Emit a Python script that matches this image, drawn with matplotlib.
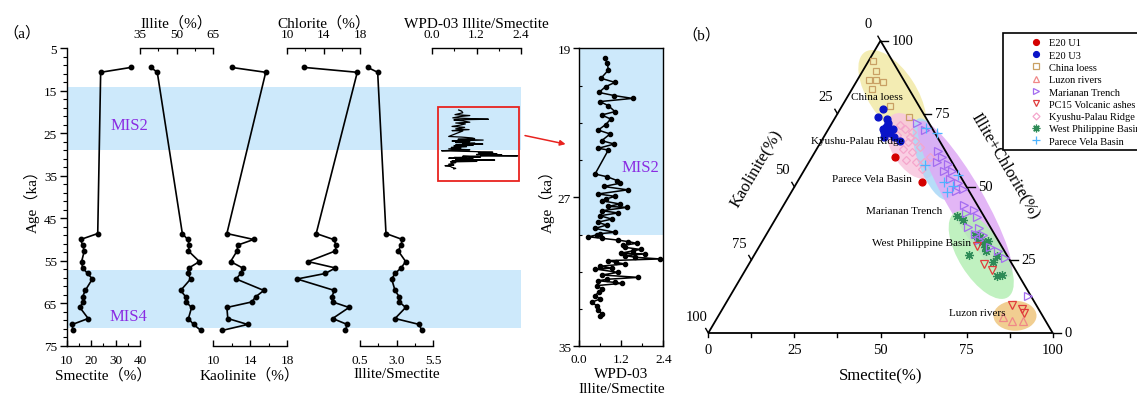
import matplotlib.pyplot as plt
import numpy as np
from matplotlib.lines import Line2D
from matplotlib.patches import Ellipse, Rectangle, FancyArrowPatch, Polygon
from matplotlib.ticker import FixedLocator

plt.rcParams['font.family'] = ['Liberation Serif', 'Noto Sans CJK SC']
plt.rcParams['axes.linewidth'] = 1.0

W, H = 1137, 402

# ---------------- panel (a): clay minerals of core E20 ----------------
age = [9.5, 10.65, 48.6, 50.0, 51.3, 52.7, 55.2, 56.7, 58.0, 59.3,
       62.0, 63.5, 64.7, 66.0, 68.6, 70.0, 71.4]
smectite = [36.3, 23.9, 22.7, 15.7, 16.5, 17.2, 16.1, 16.5, 18.6, 20.5,
            17.6, 16.5, 16.7, 15.4, 18.8, 12.3, 12.5]
illite = [39.5, 42.1, 52.4, 54.6, 55.3, 54.9, 59.4, 55.1, 54.6, 55.8,
          51.7, 53.8, 53.9, 56.2, 54.9, 57.0, 60.0]
kaolinite = [12.0, 15.7, 11.5, 14.4, 12.7, 12.6, 11.9, 13.2, 13.0, 12.5,
             15.5, 14.6, 14.2, 11.5, 11.6, 13.75, 11.0]
chlorite = [11.9, 17.7, 13.2, 15.1, 15.4, 15.3, 12.3, 15.3, 14.2, 11.1,
            15.2, 14.9, 15.0, 16.8, 15.0, 16.6, 16.4]
illite_smectite = [1.03, 1.71, 2.28, 3.40, 3.31, 3.12, 3.63, 3.31, 2.90, 2.67,
                   2.90, 3.19, 3.19, 3.63, 2.90, 4.56, 4.72]

# WPD-03 illite/smectite record
wpd_age = [19.52, 19.79, 20.17, 20.61, 20.83, 21.06, 21.37, 21.54, 21.69, 21.86,
           22.08, 22.40, 22.58, 22.80, 23.10, 23.39, 23.60, 23.96, 24.14, 24.37,
           24.46, 25.75, 25.90, 26.10, 26.25, 26.42, 26.60, 26.82, 26.95, 27.10,
           27.18, 27.36, 27.49, 27.54, 27.72, 27.84, 27.99, 28.17, 28.34, 28.49,
           28.67, 28.88, 28.95, 29.02, 29.12, 29.20, 29.30, 29.38, 29.47, 29.58,
           29.69, 29.80, 29.87, 30.00, 30.04, 30.13, 30.22, 30.31, 30.40, 30.50,
           30.58, 30.70, 30.81, 30.85, 31.03, 31.17, 31.30, 31.40, 31.48, 31.57,
           31.62, 31.74, 31.92, 32.10, 32.28, 32.46, 32.64, 32.82, 33.03, 33.27,
           33.39]
wpd_is = [0.72, 0.80, 0.83, 0.62, 1.02, 0.75, 0.56, 1.00, 1.52, 0.59,
          0.83, 1.02, 0.64, 0.90, 0.75, 0.54, 0.88, 0.64, 1.00, 0.54,
          0.83, 0.45, 0.80, 1.08, 1.15, 0.70, 1.38, 0.54, 1.02, 0.75,
          0.64, 1.16, 0.83, 1.37, 0.64, 1.11, 0.59, 0.93, 0.52, 0.78,
          0.45, 1.02, 0.60, 0.50, 0.26, 0.64, 1.11, 1.40, 1.64, 1.25,
          1.31, 1.75, 1.54, 1.20, 1.88, 1.31, 1.60, 2.31, 0.83, 1.05,
          1.31, 0.60, 0.93, 0.45, 1.11, 0.64, 1.69, 0.80, 0.54, 1.02,
          1.21, 0.50, 0.64, 0.55, 0.45, 0.59, 0.35, 0.50, 0.54, 0.64,
          0.59]

mis2 = (14.2, 28.9)
mis4 = (57.2, 70.9)

# ---------------- panel (b): ternary, Smectite / Illite+Chlorite ----------------
china_loess_s = [1.2, 3.9, 3.3, 5.4, 7.9, 5.8, 14.0, 21.4]
china_loess_ic = [93.2, 89.5, 86.7, 86.7, 85.8, 83.5, 77.5, 73.9]

luzon_s = [82.8, 86.1, 89.3]
luzon_ic = [5.5, 4.1, 4.1]

marianan_s = [24.7, 28.2, 35.6, 37.8, 37.2, 40.7, 40.7, 43.1, 43.9, 46.9, 47.6, 49.3,
              52.4, 56.1, 54.3, 58.2, 57.3, 60.7, 60.5, 63.0, 62.7, 67.1, 70.1, 73.3, 86.5]
marianan_ic = [71.8, 69.5, 62.3, 60.2, 58.5, 57.8, 55.4, 55.4, 52.7, 51.3, 48.6, 49.3,
               43.8, 42.1, 41.1, 39.7, 36.3, 35.9, 33.9, 33.5, 31.8, 29.4, 28.1, 25.7, 12.7]

pc15_s = [63.2, 68.3, 71.6, 83.4, 87.0, 88.3]
pc15_ic = [29.8, 23.6, 21.6, 9.6, 8.2, 6.8]

kyushu_s = [20.1, 22.2, 25.0, 20.9, 25.3, 27.2, 25.1, 28.2, 29.7, 27.8, 31.1, 33.4,
            34.0, 34.3, 24.8]
kyushu_ic = [71.2, 69.8, 67.1, 67.7, 65.3, 65.7, 62.9, 61.9, 63.6, 59.2, 58.5, 58.5,
             56.1, 60.2, 68.8]

wpb_s = [52.2, 54.6, 60.7, 62.2, 63.9, 65.6, 65.5, 62.4, 70.7, 70.5, 74.1, 75.4, 62.5, 66.6]
wpb_ic = [40.0, 38.7, 33.5, 32.2, 31.1, 29.4, 31.5, 26.7, 26.3, 24.3, 19.5, 19.8, 32.8, 28.1]

parece_s = [28.2, 32.2, 34.2, 42.6, 45.2, 45.9, 45.5]
parece_ic = [70.1, 68.4, 57.5, 51.7, 48.2, 50.3, 54.1]

# source-area fields: centre (S, I+C), axes lengths and tilt in the triangle plane
field_names = ['China loess', 'Kyushu-Palau Ridge', 'Parece Vela Basin',
               'Marianan Trench', 'West Philippine Basin', 'Luzon rivers']
field_s = [12.5, 26.9, 35.5, 51.6, 65.9, 86.1]
field_ic = [81.8, 64.0, 59.5, 45.8, 26.7, 5.9]
field_w = [29, 21, 25, 52, 29, 12.5]
field_h = [14, 11.6, 8.7, 10.5, 13, 8.7]
field_ang = [-57, -60, -70, -60, -58, 0]
field_col = ['#f2e9a6', '#f8c6de', '#a9d8f7', '#dfaaf5', '#b5efb5', '#efc67e']
# label anchor for each field (pixel position)
field_lab = [(877, 98), (857, 141), (872, 180), (904, 212), (922, 244), (977, 314)]

BAND = '#cde9fb'
MIS_COLOR = '#8a2be2'
RED = '#e8231f'

fig = plt.figure(figsize=(W / 100, H / 100), dpi=100)


def box(x0, y0, x1, y1):
    """Axes from pixel corners, origin top-left."""
    return fig.add_axes([x0 / W, 1 - y1 / H, (x1 - x0) / W, (y1 - y0) / H])


def fxy(x, y):
    return x / W, 1 - y / H


# ---- main age axis with MIS bands ----
ax = box(66.7, 49.3, 521, 346.7)
ax.set_xlim(0, 1)
ax.set_ylim(75, 5)
for s in ['top', 'right', 'bottom']:
    ax.spines[s].set_visible(False)
ax.set_xticks([])
ax.set_yticks(range(5, 76, 10))
ax.yaxis.set_minor_locator(FixedLocator(np.arange(5, 76, 2)))
ax.tick_params(axis='y', which='major', direction='out', length=5, width=1, labelsize=9.5, pad=2)
ax.tick_params(axis='y', which='minor', direction='out', length=3, width=0.8)
ax.set_ylabel('Age（ka）', fontsize=11, labelpad=3)
for top, bot in (mis2, mis4):
    ax.axhspan(top, bot, color=BAND, lw=0, zorder=0)
ax.text(0.137, 23.0, 'MIS2', color=MIS_COLOR, fontsize=12, ha='center', va='center')
ax.text(0.135, 68.0, 'MIS4', color=MIS_COLOR, fontsize=12, ha='center', va='center')


def column(x0, x1, xlim, major, labels, minor, side, title):
    c = box(x0, 49.3, x1, 346.7)
    c.patch.set_visible(False)
    c.set_xlim(*xlim)
    c.set_ylim(75, 5)
    for s in ['left', 'right', 'top', 'bottom']:
        c.spines[s].set_visible(s == side)
    c.yaxis.set_visible(False)
    c.xaxis.set_ticks_position(side)
    c.xaxis.set_label_position(side)
    c.set_xticks(major)
    c.set_xticklabels(labels)
    c.set_xticks(minor, minor=True)
    c.tick_params(axis='x', which='major', direction='in', length=4, width=1, labelsize=9.5, pad=6)
    c.tick_params(axis='x', which='minor', direction='in', length=2.5, width=0.8)
    c.set_xlabel(title, fontsize=11, labelpad=1)
    return c


line_kw = dict(color='k', marker='o', ms=3.2, lw=1.2, clip_on=False)

c = column(66.7, 140, (10, 40), [10, 20, 30, 40], ['10', '20', '30', '40'],
           [15, 25, 35], 'bottom', 'Smectite（%）')
c.plot(smectite, age, **line_kw)

c = column(140, 213, (35, 65), [35, 50, 65], ['35', '50', '65'],
           [42.5, 57.5], 'top', 'Illite（%）')
c.plot(illite, age, **line_kw)

c = column(213, 287, (10, 18), [10, 14, 18], ['10', '14', '18'],
           [12, 16], 'bottom', 'Kaolinite（%）')
c.plot(kaolinite, age, **line_kw)

c = column(287, 360, (10, 18), [10, 14, 18], ['10', '14', '18'],
           [12, 16], 'top', 'Chlorite（%）')
c.plot(chlorite, age, **line_kw)

c = column(360, 433, (0.5, 5.5), [0.5, 3.0, 5.5], ['0.5', '3.0', '5.5'],
           [1.75, 4.25], 'bottom', 'Illite/Smectite')
c.plot(illite_smectite, age, **line_kw)

c = column(432, 521, (0, 2.4), [0, 1.2, 2.4], ['0.0', '1.2', '2.4'],
           [0.6, 1.8], 'top', 'WPD-03 Illite/Smectite')
c.plot(wpd_is, wpd_age, color='k', lw=0.9)
c.add_patch(Rectangle((0.154, 18.8), 2.2, 17.4, fill=False, ec=RED, lw=1.3, clip_on=False))

fig.add_artist(FancyArrowPatch(fxy(522.3, 136), fxy(568.3, 145.7), transform=fig.transFigure,
                               arrowstyle='-|>', mutation_scale=8, color=RED, lw=1.1))

fig.text(*fxy(22, 33), '（a）', fontsize=11, ha='center', va='center')

# ---- enlarged WPD-03 record ----
az = box(579.3, 49.3, 663.3, 347.3)
az.set_xlim(0, 2.4)
az.set_ylim(35, 19)
az.axhspan(19, 29.0, color=BAND, lw=0, zorder=0)
az.plot(wpd_is, wpd_age, color='k', marker='o', ms=3, lw=1.1)
az.set_xticks([0, 1.2, 2.4])
az.set_xticklabels(['0.0', '1.2', '2.4'])
az.set_xticks([0.6, 1.8], minor=True)
az.set_yticks([19, 27, 35])
az.set_yticks([21, 23, 25, 29, 31, 33], minor=True)
az.tick_params(which='major', direction='out', length=4, width=1, labelsize=9.5, pad=2)
az.tick_params(which='minor', direction='in', length=2.5, width=0.8)
az.tick_params(axis='x', which='both', direction='in', pad=5)
az.set_xlabel('WPD-03\nIllite/Smectite', fontsize=11, linespacing=1.25, labelpad=1)
az.set_ylabel('Age（ka）', fontsize=11, labelpad=2)
az.text(1.75, 25.4, 'MIS2', color=MIS_COLOR, fontsize=12, ha='center', va='center')

# ---- ternary diagram ----
HR = 292.3 / 344.4
at = box(708.3, 41.7, 1052.7, 334)
at.set_xlim(0, 100)
at.set_ylim(0, 100 * HR)
at.axis('off')


def tern(s, ic):
    s = np.asarray(s, float)
    ic = np.asarray(ic, float)
    return s + ic / 2, ic * HR


for name, s, ic, w, h, ang, col in zip(field_names, field_s, field_ic, field_w,
                                       field_h, field_ang, field_col):
    at.add_patch(Ellipse(tern(s, ic), w, h, angle=ang, fc=col, ec='none',
                         alpha=0.85, zorder=1))

at.add_patch(Polygon(np.column_stack(tern([0, 100, 0], [0, 0, 100])), closed=True,
                     fill=False, ec='k', lw=1.3, zorder=3, clip_on=False))

tk = dict(fontsize=10.5, va='center')
for v in np.arange(0, 100.1, 12.5):
    x, y = tern(v, 0)
    at.plot([x, x], [0, -1.2], color='k', lw=1, clip_on=False)
    if v % 25 == 0:
        at.text(x, -4.7, f'{v:.0f}', ha='center', **tk)
for v in range(0, 101, 25):
    # right side: Illite+Chlorite
    x, y = tern(100 - v, v)
    at.plot([x, x + 2.3], [y, y], color='k', lw=1, clip_on=False)
    at.text(x + 3.3, y, f'{v}', ha='left', **tk)
    # left side: Kaolinite
    x, y = tern(0, 100 - v)
    at.plot([x, x - 0.75], [y, y + 1.3], color='k', lw=1, clip_on=False)
    at.text(x - 3.5, y + 4.9, f'{v}', ha='center', **tk)

fig.text(*fxy(881, 376), 'Smectite(%)', fontsize=12, ha='center', va='center')
fig.text(*fxy(756, 169), 'Kaolinite(%)', fontsize=12, ha='center', va='center', rotation=59.5)
fig.text(*fxy(1005, 166), 'Illite+Chlorite(%)', fontsize=12, ha='center', va='center',
         rotation=-59.5)

for name, (px, py) in zip(field_names, field_lab):
    fig.text(*fxy(px, py), name, fontsize=8, ha='center', va='center')

# E20 samples from panel (a): two Holocene samples (U1) and the MIS3-4 samples (U3)
tot = np.array(smectite) + np.array(illite) + np.array(kaolinite) + np.array(chlorite)
e20_s = 100 * np.array(smectite) / tot
e20_ic = 100 * (np.array(illite) + np.array(chlorite)) / tot
u1 = np.array(age) < 20

series = [
    ('E20 U1', e20_s[u1], e20_ic[u1], dict(marker='o', mfc='#d40000', mec='#d40000', ms=5)),
    ('E20 U3', e20_s[~u1], e20_ic[~u1], dict(marker='o', mfc='#0a14c8', mec='#0a14c8', ms=5)),
    ('China loess', china_loess_s, china_loess_ic, dict(marker='s', mfc='none', mec='#c9a064', ms=5)),
    ('Luzon rivers', luzon_s, luzon_ic, dict(marker='^', mfc='none', mec='#f08888', ms=5.5)),
    ('Marianan Trench', marianan_s, marianan_ic, dict(marker='>', mfc='none', mec='#a46cf0', ms=5.5)),
    ('PC15 Volcanic ashes', pc15_s, pc15_ic, dict(marker='v', mfc='none', mec='#e03c3c', ms=5.5)),
    ('Kyushu-Palau Ridge', kyushu_s, kyushu_ic, dict(marker='D', mfc='none', mec='#f4a6cc', ms=4.2)),
    ('West Philippine Basin', wpb_s, wpb_ic, dict(marker=(8, 2, 0), mfc='none', mec='#2e8b57', ms=6.5)),
    ('Parece Vela Basin', parece_s, parece_ic, dict(marker='+', mfc='none', mec='#4db3ff', ms=7)),
]
draw_order = [2, 6, 7, 4, 8, 5, 3, 1, 0]
for i in draw_order:
    name, s, ic, kw = series[i]
    x, y = tern(s, ic)
    at.plot(x, y, ls='none', mew=0.9, zorder=4, clip_on=False, **kw)

# legend box runs past the right edge of the figure
handles = [Line2D([], [], ls='none', mew=0.9, **kw) for _, _, _, kw in series]
leg = fig.legend(handles, [n for n, _, _, _ in series], loc='upper left',
                 bbox_to_anchor=fxy(1003.3, 34.3), bbox_transform=fig.transFigure,
                 frameon=True, fancybox=False, edgecolor='k', fontsize=7.5,
                 handlelength=5.3, handletextpad=-1.4, borderpad=0.45,
                 labelspacing=0.29, borderaxespad=0, markerscale=0.85)
leg.get_frame().set_linewidth(1.2)
leg.get_frame().set_alpha(1)

fig.text(*fxy(701, 35), '（b）', fontsize=11, ha='center', va='center')

fig.savefig('out.png', dpi=100)
